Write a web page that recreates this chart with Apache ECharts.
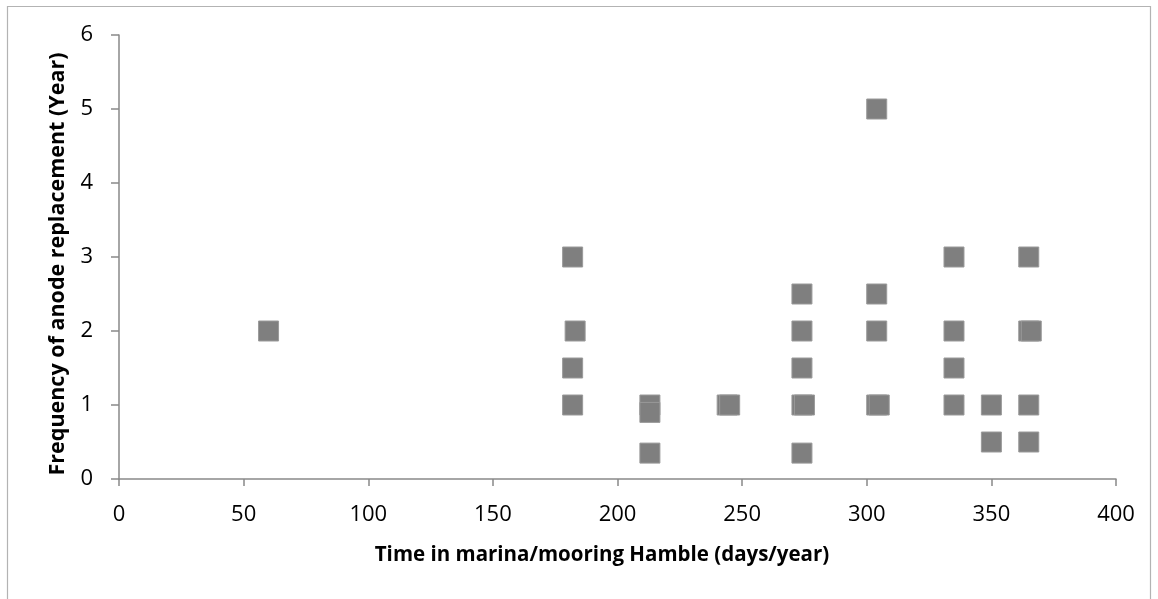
<!DOCTYPE html>
<html>
<head>
<meta charset="utf-8">
<script src="https://cdn.jsdelivr.net/npm/echarts@6/dist/echarts.min.js"></script>
<style>
html,body{margin:0;padding:0;background:#fff;}
#chart{width:1158px;height:599px;}
</style>
</head>
<body>
<div id="chart"></div>
<script>
const daysInMarina = [60, 182, 183, 182, 182, 213, 213, 213, 244, 245, 274, 274, 274, 274, 275, 274, 304, 304, 304, 304, 305, 335, 335, 335, 335, 350, 350, 365, 365, 366, 365, 365];
const replacementFreq = [2, 3, 2, 1.5, 1, 1, 0.9, 0.35, 1, 1, 2.5, 2, 1.5, 1, 1, 0.35, 5, 2.5, 2, 1, 1, 3, 2, 1.5, 1, 1, 0.5, 3, 2, 2, 1, 0.5];
const xTitle = 'Time in marina/mooring Hamble (days/year)';
const yTitle = 'Frequency of anode replacement (Year)';

const points = daysInMarina.map((d, i) => [d, replacementFreq[i]]);
const font = '"Open Sans", "Noto Sans", sans-serif';
const axisGrey = '#898989';

const chart = echarts.init(document.getElementById('chart'), null, {renderer: 'canvas'});
chart.setOption({
  animation: false,
  backgroundColor: '#fff',
  grid: {left: 119, right: 42, top: 35, bottom: 120, containLabel: false},
  xAxis: {
    type: 'value', min: 0, max: 400, interval: 50,
    axisLine: {show: true, onZero: false, lineStyle: {color: axisGrey, width: 1.5}},
    axisTick: {show: true, inside: false, length: 7, lineStyle: {color: axisGrey, width: 1.5}},
    splitLine: {show: false},
    axisLabel: {margin: 25, color: '#000', fontFamily: font, fontSize: 22}
  },
  yAxis: {
    type: 'value', min: 0, max: 6, interval: 1,
    axisLine: {show: true, onZero: false, lineStyle: {color: axisGrey, width: 1.5}},
    axisTick: {show: true, inside: false, length: 8, lineStyle: {color: axisGrey, width: 1.5}},
    splitLine: {show: false},
    axisLabel: {margin: 26, color: '#000', fontFamily: font, fontSize: 22}
  },
  series: [{
    type: 'scatter',
    data: points,
    symbol: 'rect',
    symbolSize: 20,
    itemStyle: {color: '#7f7f7f', borderColor: '#9a9a9a', borderWidth: 1, opacity: 1}
  }],
  graphic: [
    {type: 'rect', silent: true, z: -1,
     shape: {x: 7.5, y: 6.5, width: 1143, height: 600},
     style: {fill: null, stroke: '#b3b3b3', lineWidth: 1.2}},
    {type: 'text', x: 602, y: 555,
     style: {text: xTitle, font: 'bold 20.5px ' + font, fill: '#000', textAlign: 'center', textVerticalAlign: 'middle'}},
    {type: 'text', x: 58, y: 264, rotation: Math.PI / 2,
     style: {text: yTitle, font: 'bold 21.5px ' + font, fill: '#000', textAlign: 'center', textVerticalAlign: 'middle'}}
  ]
});
</script>
</body>
</html>
